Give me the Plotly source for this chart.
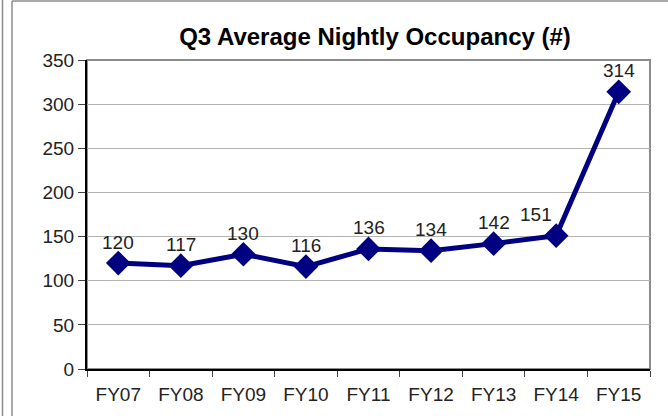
import plotly.graph_objects as go

categories = ["FY07", "FY08", "FY09", "FY10", "FY11", "FY12", "FY13", "FY14", "FY15"]
occupancy = [120, 117, 130, 116, 136, 134, 142, 151, 314]
y_ticks = [0, 50, 100, 150, 200, 250, 300, 350]
title_text = "Q3 Average Nightly Occupancy (#)"

W, H = 668, 416
L, R, T, B = 87, 18, 60, 47
pw = W - L - R
ph = H - T - B

def px_x(x):
    return (x - L) / pw

def px_y(y):
    return 1 - (y - T) / ph

FONT = "Liberation Sans, Arial, Helvetica, sans-serif"

fig = go.Figure()
fig.add_trace(go.Scatter(
    x=categories, y=occupancy,
    mode="lines+markers",
    line=dict(color="#000080", width=5),
    marker=dict(symbol="diamond", size=19, color="#000080"),
    cliponaxis=False,
    hoverinfo="skip",
))

n = len(categories)
for i, (c, v) in enumerate(zip(categories, occupancy)):
    # label before a steep rise is nudged left to avoid the line (as in the original)
    steep = i + 1 < n and occupancy[i + 1] - v > 100
    fig.add_annotation(x=c, y=v, text=str(v), showarrow=False,
                       yshift=21, xshift=-20 if steep else 0, yanchor="middle",
                       font=dict(family=FONT, size=19, color="#222222"))

shapes = [
    dict(type="rect", xref="paper", yref="paper", x0=0, x1=1, y0=0, y1=1,
         line=dict(color="#8c8c8c", width=2), layer="below"),
    dict(type="line", xref="paper", yref="paper", x0=px_x(12), x1=px_x(12),
         y0=px_y(1), y1=px_y(H + 5), line=dict(color="#8c8c8c", width=1.5)),
    dict(type="line", xref="paper", yref="paper", x0=px_x(12), x1=px_x(W + 5),
         y0=px_y(1), y1=px_y(1), line=dict(color="#8c8c8c", width=1.5)),
    dict(type="line", xref="paper", yref="paper", x0=px_x(2.5), x1=px_x(2.5),
         y0=px_y(0), y1=px_y(H + 5), line=dict(color="#8c8c8c", width=1.5)),
]

fig.update_layout(
    width=W, height=H,
    margin=dict(l=L, r=R, t=T, b=B),
    paper_bgcolor="white", plot_bgcolor="white",
    showlegend=False,
    title=dict(text="<b>" + title_text + "</b>", xref="container", x=375 / W,
               xanchor="center", yref="container", y=1 - 37 / H, yanchor="middle",
               font=dict(family=FONT, size=24, color="black")),
    shapes=shapes,
    font=dict(family=FONT, size=19, color="#222222"),
)

fig.update_xaxes(
    type="category", range=[-0.5, n - 0.5],
    showline=True, linecolor="black", linewidth=2,
    ticks="outside", tickson="boundaries", ticklen=6, tickcolor="#444444", tickwidth=1,
    ticklabelstandoff=7,
    showgrid=False, zeroline=False,
    tickfont=dict(family=FONT, size=19, color="#222222"),
)
fig.update_yaxes(
    range=[0, 350], tickvals=y_ticks,
    showline=True, linecolor="black", linewidth=2,
    ticks="outside", ticklen=7, tickcolor="#444444", tickwidth=1,
    showgrid=True, gridcolor="#b4b4b4", gridwidth=1, zeroline=False,
    tickfont=dict(family=FONT, size=19, color="#222222"),
)

fig.write_html("out.html", config={"displayModeBar": False},
               post_script="document.body.style.margin='0';")
